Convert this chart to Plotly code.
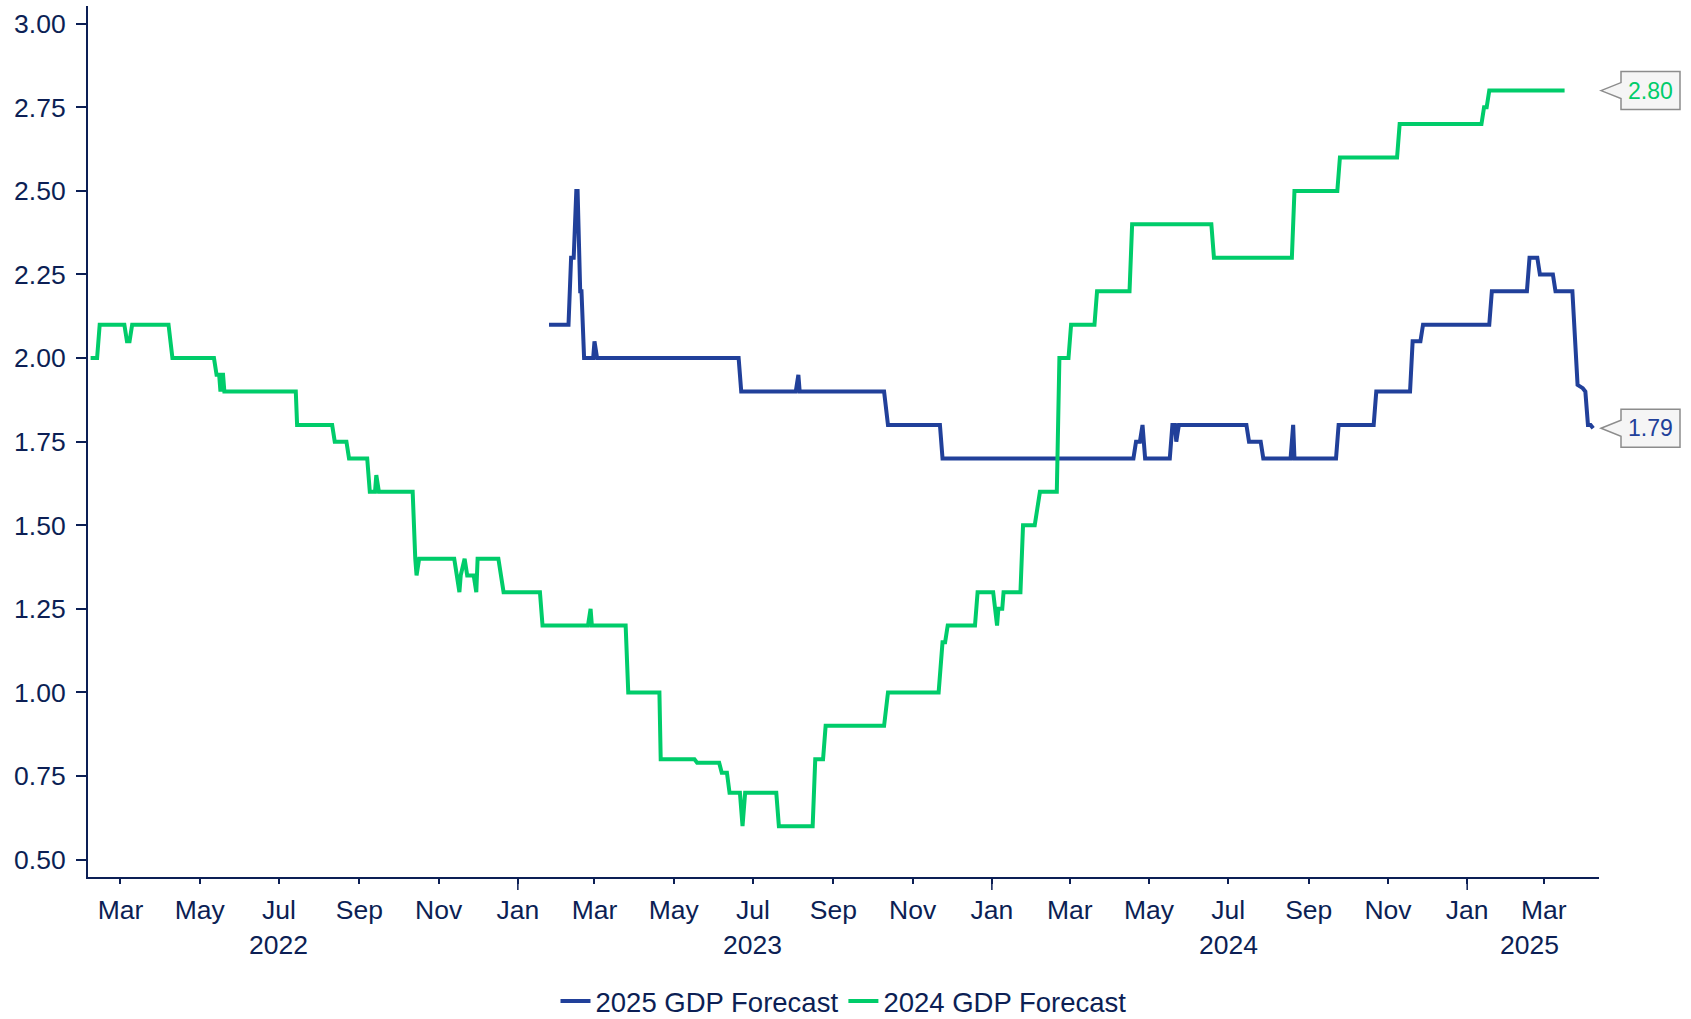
import plotly.graph_objects as go

NAVY = "#0c1f55"
BLUE = "#21409a"
GREEN = "#00cc6a"
FONT = "Liberation Sans, Arial, sans-serif"

# 2025 GDP forecast (consensus, %), vertices of the daily series
gdp2025_dates = [
    "2023-01-25", "2023-02-09", "2023-02-11", "2023-02-13", "2023-02-15", "2023-02-16",
    "2023-02-18", "2023-02-19", "2023-02-21", "2023-02-28", "2023-03-01", "2023-03-03",
    "2023-06-20", "2023-06-22", "2023-08-03", "2023-08-05", "2023-08-06", "2023-10-10",
    "2023-10-13", "2023-11-22", "2023-11-24", "2024-04-19", "2024-04-21", "2024-04-24",
    "2024-04-26", "2024-04-28", "2024-05-17", "2024-05-19", "2024-05-21", "2024-05-22",
    "2024-05-24", "2024-07-15", "2024-07-17", "2024-07-26", "2024-07-28", "2024-08-18",
    "2024-08-20", "2024-08-21", "2024-09-22", "2024-09-24", "2024-10-21", "2024-10-23",
    "2024-11-18", "2024-11-20", "2024-11-26", "2024-11-28", "2025-01-18", "2025-01-20",
    "2025-02-16", "2025-02-18", "2025-02-24", "2025-02-26", "2025-03-08", "2025-03-10",
    "2025-03-23", "2025-03-26", "2025-03-27", "2025-03-31", "2025-04-02", "2025-04-04",
    "2025-04-06", "2025-04-08",
]
gdp2025_values = [
    2.10, 2.10, 2.30, 2.30, 2.50, 2.50,
    2.20, 2.20, 2.00, 2.00, 2.05, 2.00,
    2.00, 1.90, 1.90, 1.95, 1.90, 1.90,
    1.80, 1.80, 1.70, 1.70, 1.75, 1.75,
    1.80, 1.70, 1.70, 1.80, 1.80, 1.75,
    1.80, 1.80, 1.75, 1.75, 1.70, 1.70,
    1.80, 1.70, 1.70, 1.80, 1.80, 1.90,
    1.90, 2.05, 2.05, 2.10, 2.10, 2.20,
    2.20, 2.30, 2.30, 2.25, 2.25, 2.20,
    2.20, 2.00, 1.92, 1.91, 1.90, 1.80,
    1.80, 1.79,
]

# 2024 GDP forecast (consensus, %)
gdp2024_dates = [
    "2022-02-06", "2022-02-11", "2022-02-13", "2022-03-04", "2022-03-06", "2022-03-08",
    "2022-03-10", "2022-04-07", "2022-04-10", "2022-05-12", "2022-05-14", "2022-05-16",
    "2022-05-17", "2022-05-18", "2022-05-19", "2022-05-20", "2022-07-14", "2022-07-15",
    "2022-08-11", "2022-08-13", "2022-08-22", "2022-08-24", "2022-09-07", "2022-09-09",
    "2022-09-13", "2022-09-14", "2022-09-16", "2022-10-12", "2022-10-14", "2022-10-15",
    "2022-10-17", "2022-11-13", "2022-11-15", "2022-11-17", "2022-11-18", "2022-11-21",
    "2022-11-23", "2022-11-28", "2022-11-30", "2022-12-01", "2022-12-17", "2022-12-19",
    "2022-12-21", "2023-01-18", "2023-01-20", "2023-02-24", "2023-02-26", "2023-02-27",
    "2023-03-25", "2023-03-27", "2023-04-20", "2023-04-21", "2023-05-17", "2023-05-19",
    "2023-06-05", "2023-06-07", "2023-06-11", "2023-06-13", "2023-06-21", "2023-06-23",
    "2023-06-25", "2023-07-19", "2023-07-21", "2023-08-16", "2023-08-18", "2023-08-24",
    "2023-08-26", "2023-10-10", "2023-10-13", "2023-11-21", "2023-11-24", "2023-11-26",
    "2023-11-28", "2023-12-19", "2023-12-21", "2024-01-02", "2024-01-05", "2024-01-06",
    "2024-01-09", "2024-01-10", "2024-01-23", "2024-01-25", "2024-02-03", "2024-02-05",
    "2024-02-07", "2024-02-20", "2024-02-22", "2024-02-29", "2024-03-02", "2024-03-20",
    "2024-03-22", "2024-04-16", "2024-04-18", "2024-06-18", "2024-06-20", "2024-08-19",
    "2024-08-21", "2024-09-23", "2024-09-25", "2024-11-08", "2024-11-10", "2025-01-12",
    "2025-01-14", "2025-01-16", "2025-01-18", "2025-03-17",
]
gdp2024_values = [
    2.00, 2.00, 2.10, 2.10, 2.05, 2.05,
    2.10, 2.10, 2.00, 2.00, 1.95, 1.95,
    1.90, 1.95, 1.95, 1.90, 1.90, 1.80,
    1.80, 1.75, 1.75, 1.70, 1.70, 1.60,
    1.60, 1.65, 1.60, 1.60, 1.40, 1.35,
    1.40, 1.40, 1.35, 1.30, 1.35, 1.40,
    1.35, 1.35, 1.30, 1.40, 1.40, 1.35,
    1.30, 1.30, 1.20, 1.20, 1.25, 1.20,
    1.20, 1.00, 1.00, 0.80, 0.80, 0.79,
    0.79, 0.76, 0.76, 0.70, 0.70, 0.60,
    0.70, 0.70, 0.60, 0.60, 0.80, 0.80,
    0.90, 0.90, 1.00, 1.00, 1.15, 1.15,
    1.20, 1.20, 1.30, 1.30, 1.20, 1.25,
    1.25, 1.30, 1.30, 1.50, 1.50, 1.55,
    1.60, 1.60, 2.00, 2.00, 2.10, 2.10,
    2.20, 2.20, 2.40, 2.40, 2.30, 2.30,
    2.50, 2.50, 2.60, 2.60, 2.70, 2.70,
    2.75, 2.75, 2.80, 2.80,
]

# Axis ticks and labels
tick_dates = [
    "2022-03-01", "2022-05-01", "2022-07-01", "2022-09-01", "2022-11-01",
    "2023-01-01", "2023-03-01", "2023-05-01", "2023-07-01", "2023-09-01", "2023-11-01",
    "2024-01-01", "2024-03-01", "2024-05-01", "2024-07-01", "2024-09-01", "2024-11-01",
    "2025-01-01", "2025-03-01",
]
tick_labels = [
    "Mar", "May", "Jul", "Sep", "Nov",
    "Jan", "Mar", "May", "Jul", "Sep", "Nov",
    "Jan", "Mar", "May", "Jul", "Sep", "Nov",
    "Jan", "Mar",
]
year_starts = ["2023-01-01", "2024-01-01", "2025-01-01"]
year_labels = ["2022", "2023", "2024", "2025"]
year_label_dates = ["2022-07-01", "2023-07-01", "2024-07-01", "2025-02-18"]
y_ticks = [0.50, 0.75, 1.00, 1.25, 1.50, 1.75, 2.00, 2.25, 2.50, 2.75, 3.00]

fig = go.Figure()
fig.add_trace(go.Scatter(
    x=gdp2025_dates, y=gdp2025_values, mode="lines", name="2025 GDP Forecast",
    line=dict(color=BLUE, width=4),
))
fig.add_trace(go.Scatter(
    x=gdp2024_dates, y=gdp2024_values, mode="lines", name="2024 GDP Forecast",
    line=dict(color=GREEN, width=4),
))

fig.update_layout(
    width=1691, height=1019,
    margin=dict(l=88, r=92, t=6, b=142, autoexpand=False),
    paper_bgcolor="white", plot_bgcolor="white",
    font=dict(family=FONT, size=26.5, color=NAVY),
    showlegend=True,
    legend=dict(
        orientation="h", x=0.5, xanchor="center", y=-0.1425, yanchor="middle",
        font=dict(size=27.5, color=NAVY), bgcolor="rgba(0,0,0,0)",
    ),
    xaxis=dict(
        type="date", range=["2022-02-04", "2025-04-12 12:00"],
        tickmode="array", tickvals=tick_dates, ticktext=tick_labels,
        ticks="outside", ticklen=5, tickwidth=1.5, tickcolor=NAVY,
        showline=True, linecolor=NAVY, linewidth=2,
        showgrid=False, zeroline=False,
        ticklabelstandoff=3,
        tickfont=dict(size=26.5, color=NAVY),
    ),
    yaxis=dict(
        range=[0.448, 3.053],
        tickmode="array", tickvals=y_ticks, tickformat=".2f",
        ticks="outside", ticklen=10, tickwidth=1.5, tickcolor=NAVY,
        showline=True, linecolor=NAVY, linewidth=2,
        showgrid=False, zeroline=False,
        ticklabelstandoff=5,
        tickfont=dict(size=26.5, color=NAVY),
    ),
)

# Longer tick marks at each year boundary
for d in year_starts:
    fig.add_shape(
        type="line", xref="x", yref="paper", x0=d, x1=d,
        ysizemode="pixel", yanchor=0, y0=0, y1=-13,
        line=dict(color=NAVY, width=1.5),
    )

# Year labels under the month labels
for label, d in zip(year_labels, year_label_dates):
    fig.add_annotation(
        x=d, xref="x", y=-0.078, yref="paper", text=label, showarrow=False,
        xanchor="center", yanchor="middle", font=dict(size=26.5, color=NAVY),
    )

# Last-value callouts on the right edge
for values, color in [(gdp2024_values, GREEN), (gdp2025_values, BLUE)]:
    last = values[-1]
    fig.add_shape(
        type="path", xref="paper", yref="y", xsizemode="pixel", ysizemode="pixel",
        xanchor=1, yanchor=last,
        path="M2,0 L22,8 L22,19 L81,19 L81,-19 L22,-19 L22,-8 Z",
        fillcolor="#f5f5f5", line=dict(color="#8c8c8c", width=1.5),
    )
    fig.add_annotation(
        x=1, xref="paper", y=last, yref="y", xshift=51.5, text=f"{last:.2f}",
        showarrow=False, xanchor="center", yanchor="middle",
        font=dict(size=23, color=color),
    )

fig.write_html("out.html")
